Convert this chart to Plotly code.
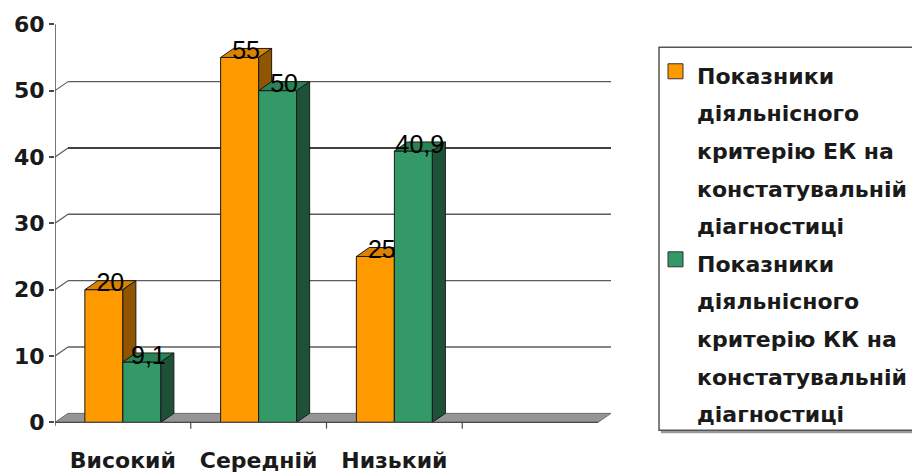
import plotly.graph_objects as go

# ---- data ----
categories = ["Високий", "Середній", "Низький"]
ek_values = [20, 55, 25]
kk_values = [9.1, 50, 40.9]
y_ticks = [0, 10, 20, 30, 40, 50, 60]
legend_ek = ["Показники", "діяльнісного", "критерію ЕК на", "констатувальній", "діагностиці"]
legend_kk = ["Показники", "діяльнісного", "критерію КК на", "констатувальній", "діагностиці"]

# ---- styling ----
ORANGE = dict(front="#FF9900", top="#D98300", side="#8F5500")
GREEN = dict(front="#339966", top="#2B8257", side="#1E5238")
EDGE = "#1a1a1a"
FONT = "DejaVu Sans"

# ---- canvas / plot-area geometry (pixels) ----
W, H = 912, 475
ML = 55                      # left edge of plot area (front axis)
PLOT_RIGHT = 612             # right edge of plot area
UNIT_X = 135.75              # pixels per category slot
UNIT_Y = 6.633               # pixels per value unit
ZERO_PX = 422                # pixel row of value 0
N_SLOTS = 4                  # three categories plus one empty slot
X_MIN = -0.5
X_MAX = X_MIN + (PLOT_RIGHT - ML) / UNIT_X
Y_MIN, Y_MAX = -1.0, 62.0
MT = ZERO_PX - Y_MAX * UNIT_Y
MB = H - (ZERO_PX - Y_MIN * UNIT_Y)
MR = W - PLOT_RIGHT
PW = PLOT_RIGHT - ML
PH = H - MT - MB

# depth of the 3-D effect, in axis units
DX = 13 / UNIT_X
DY = 9 / UNIT_Y
BAR_W = 0.28


def px_x(px):
    return (px - ML) / PW


def px_y(py):
    return (H - MB - py) / PH


def faces(values, offset):
    front = ([], [])
    top = ([], [])
    side = ([], [])
    for i, v in enumerate(values):
        xl = i + offset
        xr = xl + BAR_W
        front[0].extend([xl, xr, xr, xl, xl, None])
        front[1].extend([0, 0, v, v, 0, None])
        top[0].extend([xl, xr, xr + DX, xl + DX, xl, None])
        top[1].extend([v, v, v + DY, v + DY, v, None])
        side[0].extend([xr, xr + DX, xr + DX, xr, xr, None])
        side[1].extend([0, DY, v + DY, v, 0, None])
    return front, top, side


fig = go.Figure()

for values, offset, colors in ((ek_values, -BAR_W, ORANGE), (kk_values, 0.0, GREEN)):
    front, top, side = faces(values, offset)
    for (xs, ys), key in ((front, "front"), (top, "top"), (side, "side")):
        fig.add_trace(go.Scatter(
            x=xs, y=ys, mode="lines", fill="toself", fillcolor=colors[key],
            line=dict(color=EDGE, width=1), hoverinfo="skip", showlegend=False,
        ))

# value labels sitting on the top faces
for values, offset in ((ek_values, -BAR_W), (kk_values, 0.0)):
    xs = [i + offset + BAR_W / 2 + DX / 2 for i in range(len(values))]
    ys = [v + DY / 2 for v in values]
    fig.add_trace(go.Scatter(
        x=xs, y=ys, mode="text",
        text=[f"{v:g}".replace(".", ",") for v in values],
        textposition="middle center",
        textfont=dict(family="Liberation Sans", size=25, color="#000000"),
        hoverinfo="skip", showlegend=False, cliponaxis=False,
    ))

shapes = []
# floor
floor_x = [X_MIN, X_MIN + N_SLOTS, X_MIN + N_SLOTS + DX, X_MIN + DX]
floor_y = [0, 0, DY, DY]
path = "M " + " L ".join(f"{a},{b}" for a, b in zip(floor_x, floor_y)) + " Z"
shapes.append(dict(type="path", path=path, xref="x", yref="y", layer="below",
                   fillcolor="#959595", line=dict(color="#6e6e6e", width=1)))
# back-wall gridlines and the short connectors to the front axis
for t in y_ticks[1:-1]:
    gcol = "#000000" if t == 40 else "#5c5c5c"
    shapes.append(dict(type="line", xref="x", yref="y", layer="below",
                       x0=X_MIN + DX, x1=X_MIN + N_SLOTS + DX, y0=t + DY, y1=t + DY,
                       line=dict(color=gcol, width=1.4)))
    shapes.append(dict(type="line", xref="x", yref="y", layer="below",
                       x0=X_MIN, x1=X_MIN + DX, y0=t, y1=t + DY,
                       line=dict(color="#5c5c5c", width=1.2)))
# front value axis
shapes.append(dict(type="line", xref="x", yref="y", x0=X_MIN, x1=X_MIN,
                   y0=-0.5, y1=y_ticks[-1], line=dict(color="#4a4a4a", width=1.5)))
# front floor edge
shapes.append(dict(type="line", xref="x", yref="y", x0=X_MIN - 0.03, x1=X_MIN + N_SLOTS,
                   y0=0, y1=0, line=dict(color="#4a4a4a", width=1.2)))
# category boundary ticks
for k in range(1, N_SLOTS):
    shapes.append(dict(type="line", xref="x", yref="y", x0=X_MIN + k, x1=X_MIN + k,
                       y0=0, y1=-0.95, line=dict(color="#4a4a4a", width=1.2)))

# legend frame with a soft shadow
shapes.append(dict(type="rect", xref="paper", yref="paper",
                   x0=px_x(661), x1=px_x(935), y0=px_y(433), y1=px_y(49),
                   fillcolor="#9a9a9a", line=dict(width=0), layer="above"))
shapes.append(dict(type="rect", xref="paper", yref="paper",
                   x0=px_x(659), x1=px_x(935), y0=px_y(430), y1=px_y(47),
                   fillcolor="#ffffff", line=dict(color="#555555", width=1.5), layer="above"))

annotations = []
LINE_STEP = 37.6
first_line = 76
for g, (lines, color) in enumerate(((legend_ek, ORANGE["front"]), (legend_kk, GREEN["front"]))):
    for j, line in enumerate(lines):
        yc = first_line + (g * len(legend_ek) + j) * LINE_STEP
        annotations.append(dict(
            xref="paper", yref="paper", x=px_x(695), y=px_y(yc),
            xanchor="left", yanchor="middle", showarrow=False, text=line,
            font=dict(family=FONT, size=22, color="#1a1a1a", weight="bold"),
        ))
    yc0 = first_line + g * len(legend_ek) * LINE_STEP - 5
    shapes.append(dict(type="rect", xref="paper", yref="paper",
                       x0=px_x(668), x1=px_x(683), y0=px_y(yc0 + 7.5), y1=px_y(yc0 - 7.5),
                       fillcolor=color, line=dict(color="#333333", width=1), layer="above"))

fig.update_layout(
    width=W, height=H,
    margin=dict(l=ML, r=MR, t=MT, b=MB, pad=0, autoexpand=False),
    paper_bgcolor="#ffffff", plot_bgcolor="#ffffff",
    showlegend=False,
    shapes=shapes, annotations=annotations,
    xaxis=dict(range=[X_MIN, X_MAX], tickvals=list(range(len(categories))),
               ticktext=categories, showgrid=False, zeroline=False, showline=False,
               ticks="", ticklabelstandoff=16, automargin=False,
               tickfont=dict(family=FONT, size=22, color="#1a1a1a", weight="bold")),
    yaxis=dict(range=[Y_MIN, Y_MAX], tickvals=y_ticks, showgrid=False, zeroline=False,
               showline=False, ticks="outside", ticklen=5, tickcolor="#4a4a4a", tickwidth=1.5,
               automargin=False,
               tickfont=dict(family=FONT, size=22, color="#1a1a1a", weight="bold")),
)

fig.write_html("out.html")
